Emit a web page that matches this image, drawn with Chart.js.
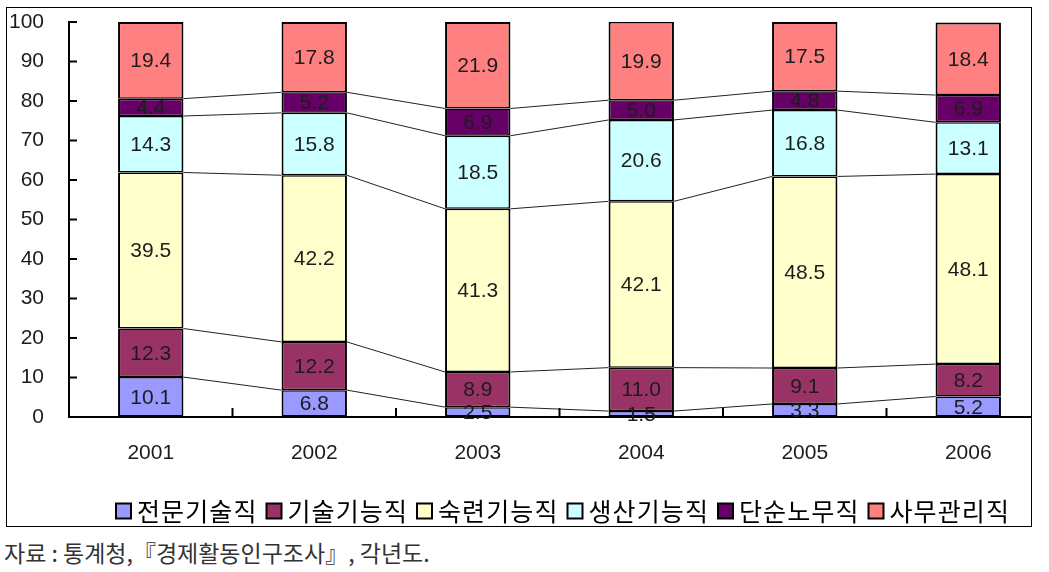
<!DOCTYPE html>
<html>
<head>
<meta charset="utf-8">
<script src="https://cdn.jsdelivr.net/npm/chart.js@4.4.1/dist/chart.umd.min.js"></script>
<style>
  html, body { margin: 0; padding: 0; background: #fff; width: 1049px; height: 572px; overflow: hidden; }
  #frame {
    position: absolute; left: 6px; top: 7px;
    width: 1024px; height: 518px;
    border: 1px solid #000; overflow: hidden;
  }
  #chart { position: absolute; left: 0; top: 0; }
  #source {
    position: absolute; left: 4px; top: 541px;
    font-family: "Noto Sans CJK KR", sans-serif; font-size: 23px; line-height: 23px; color: #333;
    white-space: nowrap;
  }
</style>
</head>
<body>
<div id="frame"><canvas id="chart" width="1043" height="518"></canvas></div>
<div id="source">자료 : 통계청,『경제활동인구조사』, 각년도.</div>
<script>
// data (%)
const years = ['2001', '2002', '2003', '2004', '2005', '2006'];
const jobNames = ['전문기술직', '기술기능직', '숙련기능직', '생산기능직', '단순노무직', '사무관리직'];
const proTech = [10.1, 6.8, 2.5, 1.5, 3.3, 5.2];
const techSkill = [12.3, 12.2, 8.9, 11.0, 9.1, 8.2];
const skilled = [39.5, 42.2, 41.3, 42.1, 48.5, 48.1];
const production = [14.3, 15.8, 18.5, 20.6, 16.8, 13.1];
const simpleLabor = [4.4, 5.2, 6.9, 5.0, 4.8, 6.9];
const officeMgmt = [19.4, 17.8, 21.9, 19.9, 17.5, 18.4];
const yTickValues = [0, 10, 20, 30, 40, 50, 60, 70, 80, 90, 100];

const seriesValues = [proTech, techSkill, skilled, production, simpleLabor, officeMgmt];
const seriesColors = ['#9999ff', '#993366', '#ffffcc', '#ccffff', '#660066', '#ff8080'];

const numFamily = '"Liberation Sans", Arial, sans-serif';
const numFont = '21px ' + numFamily;
const textColor = '#1c1c1c';

// inward tick marks, series lines, value labels and legend
const extrasPlugin = {
    id: 'extras',
    afterDatasetsDraw(chart) {
        const ctx = chart.ctx;
        const xs = chart.scales.x, ys = chart.scales.y;
        ctx.save();
        // series lines between neighbouring bars (not the top series)
        ctx.strokeStyle = '#222';
        ctx.lineWidth = 1;
        for (let d = 0; d < chart.data.datasets.length - 1; d++) {
            const bars = chart.getDatasetMeta(d).data;
            for (let i = 0; i < bars.length - 1; i++) {
                const a = bars[i], b = bars[i + 1];
                ctx.beginPath();
                ctx.moveTo(a.x + a.width / 2, a.y);
                ctx.lineTo(b.x - b.width / 2, b.y);
                ctx.stroke();
            }
        }
        // tick marks pointing into the plot
        ctx.strokeStyle = '#000';
        ctx.lineWidth = 2;
        ys.ticks.forEach(t => {
            const y = ys.getPixelForValue(t.value);
            ctx.beginPath();
            ctx.moveTo(chart.chartArea.left, y);
            ctx.lineTo(chart.chartArea.left + 8, y);
            ctx.stroke();
        });
        for (let i = 1; i < years.length; i++) {
            const x = (xs.getPixelForTick(i - 1) + xs.getPixelForTick(i)) / 2;
            ctx.beginPath();
            ctx.moveTo(x, chart.chartArea.bottom);
            ctx.lineTo(x, chart.chartArea.bottom - 9);
            ctx.stroke();
        }
        ctx.restore();
    },
    afterDraw(chart) {
        const ctx = chart.ctx;
        ctx.save();
        // value labels in the middle of each segment
        ctx.font = numFont;
        ctx.fillStyle = textColor;
        ctx.textAlign = 'center';
        ctx.textBaseline = 'middle';
        chart.data.datasets.forEach((ds, d) => {
            chart.getDatasetMeta(d).data.forEach((bar, i) => {
                ctx.fillText(ds.data[i].toFixed(1), bar.x, (bar.y + bar.base) / 2 + 1);
            });
        });
        // legend row
        ctx.font = '25px "Noto Sans CJK KR", sans-serif';
        ctx.letterSpacing = '1.1px';
        ctx.textAlign = 'left';
        const box = 15, gapIn = 6, gapOut = 9;
        const widths = jobNames.map(n => ctx.measureText(n).width);
        const total = widths.reduce((s, w) => s + box + gapIn + w, 0) + gapOut * (jobNames.length - 1);
        let x = 556 - total / 2;
        const cy = 503;
        jobNames.forEach((name, i) => {
            ctx.fillStyle = seriesColors[i];
            ctx.fillRect(x, cy - box / 2, box, box);
            ctx.strokeStyle = '#000';
            ctx.lineWidth = 2;
            ctx.strokeRect(x, cy - box / 2, box, box);
            ctx.fillStyle = '#000';
            ctx.fillText(name, x + box + gapIn, cy);
            x += box + gapIn + widths[i] + gapOut;
        });
        ctx.restore();
    }
};

const lastIdx = jobNames.length - 1;
const datasets = jobNames.map((name, i) => ({
    label: name,
    data: seriesValues[i],
    backgroundColor: seriesColors[i],
    borderColor: '#000',
    borderWidth: { left: 2, right: 2, top: i === lastIdx ? 2 : 1.5, bottom: i === 0 ? 2 : 1.5 },
    borderSkipped: false,
    barPercentage: 0.4,
    categoryPercentage: 1.0
}));

new Chart(document.getElementById('chart').getContext('2d'), {
    type: 'bar',
    data: { labels: years, datasets: datasets },
    options: {
        responsive: false,
        animation: false,
        layout: { padding: { top: 14, right: 0, bottom: 0, left: 0 } },
        plugins: {
            legend: { display: false },
            tooltip: { enabled: false }
        },
        scales: {
            x: {
                stacked: true,
                grid: { display: false, drawTicks: false },
                border: { display: true, color: '#000', width: 2 },
                ticks: { color: textColor, font: { family: numFamily, size: 21 }, padding: 24 },
                afterFit(scale) { scale.height = 109; scale.paddingLeft = 0; scale.paddingRight = 0; }
            },
            y: {
                stacked: true,
                min: 0,
                max: 100,
                grid: { display: false, drawTicks: false },
                border: { display: true, color: '#000', width: 2 },
                afterBuildTicks(scale) { scale.ticks = yTickValues.map(v => ({ value: v })); },
                ticks: { color: textColor, font: { family: numFamily, size: 21 }, padding: 25 },
                afterFit(scale) { scale.width = 62; scale.paddingTop = 0; scale.paddingBottom = 0; }
            }
        }
    },
    plugins: [extrasPlugin]
});
</script>
</body>
</html>
